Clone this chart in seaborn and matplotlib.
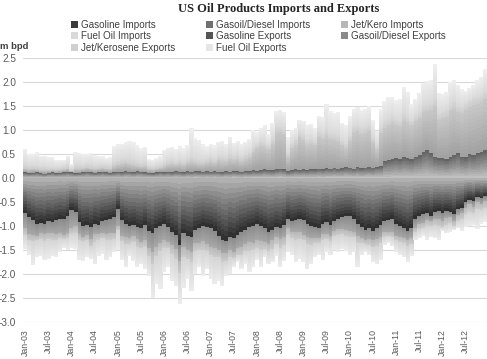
import numpy as np
import pandas as pd
import seaborn as sns
import matplotlib.pyplot as plt
from matplotlib.colors import to_rgb
from matplotlib.patches import Patch

# monthly, Jan-03 .. Dec-12, m bpd (imports given as positive volumes)
months = pd.date_range('2003-01-01', '2012-12-01', freq='MS')

gasoline_imp = [
    0.72, 0.82, 0.88, 0.95, 0.93, 0.96, 0.90, 0.92, 0.88, 0.85, 0.86, 0.80,
    0.66, 0.70, 0.92, 1.00, 0.98, 1.02, 0.95, 0.97, 0.90, 0.88, 0.85, 0.82,
    0.64, 0.88, 0.95, 1.00, 0.98, 1.02, 1.05, 0.98, 1.10, 1.15, 1.05, 1.00,
    0.95, 1.02, 1.12, 1.18, 1.40, 1.15, 1.20, 1.22, 1.08, 1.05, 1.00, 1.02,
    1.05, 1.10, 1.20, 1.28, 1.32, 1.22, 1.25, 1.18, 1.12, 1.08, 1.02, 1.00,
    0.95, 1.00, 1.05, 1.12, 1.08, 1.02, 1.05, 0.98, 0.85, 0.90, 0.88, 0.85,
    0.88, 0.95, 1.00, 1.02, 1.05, 0.95, 0.92, 0.98, 0.90, 0.85, 0.82, 0.80,
    0.80, 0.85, 0.95, 1.02, 1.08, 1.05, 1.10, 1.05, 0.98, 0.90, 0.88, 0.85,
    0.95, 1.00, 1.05, 1.10, 1.05, 0.85, 0.80, 0.75, 0.72, 0.78, 0.70, 0.68,
    0.72, 0.68, 0.70, 0.75, 0.65, 0.62, 0.50, 0.45, 0.48, 0.40, 0.42, 0.38,
]
gasoil_imp = [
    0.32, 0.35, 0.30, 0.25, 0.22, 0.20, 0.25, 0.22, 0.28, 0.30, 0.32, 0.35,
    0.38, 0.30, 0.25, 0.22, 0.20, 0.25, 0.22, 0.20, 0.25, 0.28, 0.30, 0.32,
    0.35, 0.32, 0.28, 0.25, 0.22, 0.25, 0.28, 0.30, 0.35, 0.40, 0.38, 0.35,
    0.35, 0.32, 0.28, 0.30, 0.32, 0.28, 0.30, 0.32, 0.28, 0.30, 0.32, 0.35,
    0.38, 0.35, 0.30, 0.28, 0.25, 0.28, 0.30, 0.28, 0.32, 0.30, 0.32, 0.35,
    0.35, 0.32, 0.28, 0.25, 0.22, 0.20, 0.22, 0.25, 0.20, 0.22, 0.25, 0.28,
    0.30, 0.28, 0.25, 0.22, 0.20, 0.22, 0.25, 0.22, 0.20, 0.22, 0.25, 0.28,
    0.30, 0.28, 0.25, 0.22, 0.20, 0.22, 0.20, 0.22, 0.25, 0.22, 0.25, 0.28,
    0.25, 0.22, 0.20, 0.18, 0.20, 0.18, 0.15, 0.18, 0.15, 0.12, 0.15, 0.18,
    0.18, 0.15, 0.12, 0.15, 0.12, 0.10, 0.12, 0.10, 0.12, 0.10, 0.12, 0.10,
]
jet_imp = [
    0.15, 0.12, 0.14, 0.10, 0.12, 0.15, 0.12, 0.14, 0.12, 0.10, 0.08, 0.10,
    0.12, 0.15, 0.12, 0.10, 0.12, 0.14, 0.16, 0.12, 0.10, 0.12, 0.14, 0.12,
    0.10, 0.12, 0.15, 0.12, 0.14, 0.16, 0.12, 0.15, 0.18, 0.25, 0.20, 0.18,
    0.15, 0.12, 0.18, 0.20, 0.25, 0.22, 0.18, 0.20, 0.16, 0.14, 0.18, 0.15,
    0.18, 0.20, 0.15, 0.18, 0.16, 0.15, 0.12, 0.14, 0.16, 0.15, 0.18, 0.15,
    0.15, 0.18, 0.15, 0.16, 0.18, 0.15, 0.18, 0.16, 0.14, 0.12, 0.15, 0.14,
    0.12, 0.15, 0.14, 0.12, 0.10, 0.12, 0.10, 0.12, 0.10, 0.12, 0.10, 0.12,
    0.12, 0.10, 0.15, 0.12, 0.10, 0.12, 0.14, 0.15, 0.12, 0.10, 0.08, 0.10,
    0.10, 0.12, 0.10, 0.14, 0.12, 0.10, 0.12, 0.10, 0.12, 0.10, 0.12, 0.14,
    0.12, 0.14, 0.12, 0.10, 0.12, 0.14, 0.12, 0.15, 0.12, 0.14, 0.12, 0.14,
]
fuel_imp = [
    0.28, 0.31, 0.50, 0.35, 0.35, 0.39, 0.41, 0.34, 0.37, 0.30, 0.19, 0.25,
    0.29, 0.33, 0.41, 0.40, 0.35, 0.27, 0.47, 0.33, 0.33, 0.42, 0.36, 0.29,
    0.41, 0.38, 0.47, 0.25, 0.38, 0.42, 0.35, 0.47, 0.42, 0.70, 0.57, 0.77,
    0.50, 0.39, 0.57, 0.57, 0.65, 0.65, 0.42, 0.61, 0.48, 0.36, 0.55, 0.38,
    0.49, 0.55, 0.50, 0.51, 0.32, 0.35, 0.18, 0.15, 0.30, 0.27, 0.43, 0.35,
    0.25, 0.35, 0.17, 0.27, 0.27, 0.25, 0.40, 0.33, 0.36, 0.36, 0.47, 0.41,
    0.45, 0.52, 0.41, 0.29, 0.25, 0.41, 0.28, 0.28, 0.30, 0.36, 0.31, 0.32,
    0.38, 0.32, 0.50, 0.24, 0.17, 0.21, 0.31, 0.38, 0.35, 0.18, 0.14, 0.19,
    0.25, 0.26, 0.30, 0.33, 0.25, 0.17, 0.18, 0.17, 0.29, 0.22, 0.28, 0.30,
    0.08, 0.18, 0.18, 0.08, 0.16, 0.24, 0.28, 0.30, 0.26, 0.41, 0.29, 0.30,
]
gasoline_exp = [
    0.12, 0.10, 0.11, 0.12, 0.10, 0.09, 0.11, 0.12, 0.10, 0.11, 0.12, 0.13,
    0.12, 0.10, 0.11, 0.12, 0.13, 0.12, 0.11, 0.12, 0.13, 0.12, 0.11, 0.12,
    0.13, 0.12, 0.14, 0.13, 0.12, 0.14, 0.13, 0.12, 0.11, 0.10, 0.12, 0.13,
    0.12, 0.13, 0.12, 0.14, 0.13, 0.12, 0.14, 0.13, 0.15, 0.14, 0.13, 0.14,
    0.13, 0.14, 0.13, 0.12, 0.14, 0.13, 0.15, 0.14, 0.13, 0.15, 0.14, 0.16,
    0.15, 0.16, 0.18, 0.17, 0.16, 0.18, 0.20, 0.18, 0.14, 0.16, 0.18, 0.17,
    0.18, 0.17, 0.19, 0.18, 0.20, 0.19, 0.21, 0.20, 0.22, 0.20, 0.21, 0.23,
    0.22, 0.20, 0.23, 0.21, 0.22, 0.23, 0.22, 0.24, 0.26, 0.36, 0.38, 0.40,
    0.42, 0.40, 0.44, 0.42, 0.40, 0.45, 0.48, 0.55, 0.58, 0.52, 0.45, 0.42,
    0.42, 0.40, 0.44, 0.48, 0.52, 0.45, 0.44, 0.50, 0.48, 0.52, 0.55, 0.58,
]
gasoil_exp = [
    0.08, 0.08, 0.09, 0.06, 0.07, 0.08, 0.05, 0.05, 0.06, 0.06, 0.06, 0.07,
    0.03, 0.10, 0.08, 0.08, 0.09, 0.08, 0.08, 0.08, 0.08, 0.08, 0.08, 0.13,
    0.15, 0.18, 0.18, 0.17, 0.16, 0.12, 0.11, 0.13, 0.09, 0.08, 0.08, 0.09,
    0.13, 0.15, 0.18, 0.14, 0.17, 0.16, 0.18, 0.22, 0.17, 0.16, 0.17, 0.18,
    0.22, 0.18, 0.25, 0.24, 0.21, 0.27, 0.23, 0.26, 0.23, 0.25, 0.31, 0.39,
    0.47, 0.50, 0.47, 0.43, 0.56, 0.77, 0.76, 0.74, 0.30, 0.46, 0.52, 0.68,
    0.62, 0.53, 0.53, 0.50, 0.65, 0.63, 0.67, 0.62, 0.58, 0.58, 0.47, 0.39,
    0.56, 0.75, 0.75, 0.71, 0.73, 0.75, 0.53, 0.36, 0.69, 0.69, 0.72, 0.75,
    0.68, 0.68, 0.76, 0.73, 0.70, 0.73, 0.77, 0.83, 0.82, 0.90, 1.05, 0.80,
    0.83, 0.88, 0.96, 0.97, 0.86, 0.90, 0.98, 0.98, 1.04, 1.03, 1.03, 1.07,
]
jet_exp = [
    0.08, 0.07, 0.06, 0.07, 0.06, 0.07, 0.06, 0.05, 0.06, 0.05, 0.06, 0.07,
    0.05, 0.07, 0.08, 0.06, 0.07, 0.08, 0.06, 0.07, 0.06, 0.07, 0.06, 0.08,
    0.08, 0.09, 0.08, 0.10, 0.09, 0.08, 0.07, 0.08, 0.05, 0.05, 0.06, 0.06,
    0.07, 0.08, 0.07, 0.06, 0.08, 0.07, 0.08, 0.10, 0.09, 0.08, 0.07, 0.08,
    0.08, 0.07, 0.08, 0.09, 0.08, 0.10, 0.08, 0.09, 0.08, 0.09, 0.08, 0.10,
    0.08, 0.10, 0.09, 0.08, 0.10, 0.12, 0.10, 0.11, 0.08, 0.09, 0.10, 0.09,
    0.10, 0.09, 0.10, 0.08, 0.11, 0.10, 0.12, 0.10, 0.11, 0.10, 0.09, 0.10,
    0.10, 0.11, 0.10, 0.12, 0.10, 0.11, 0.09, 0.08, 0.10, 0.12, 0.11, 0.12,
    0.12, 0.11, 0.13, 0.12, 0.10, 0.11, 0.12, 0.13, 0.12, 0.13, 0.15, 0.12,
    0.12, 0.13, 0.12, 0.14, 0.12, 0.13, 0.12, 0.13, 0.14, 0.12, 0.13, 0.14,
]
fuel_exp = [
    0.33, 0.25, 0.24, 0.29, 0.24, 0.23, 0.22, 0.22, 0.16, 0.16, 0.14, 0.20,
    0.10, 0.27, 0.25, 0.24, 0.21, 0.24, 0.23, 0.18, 0.18, 0.15, 0.19, 0.33,
    0.34, 0.33, 0.36, 0.38, 0.38, 0.34, 0.31, 0.32, 0.15, 0.15, 0.16, 0.17,
    0.26, 0.26, 0.27, 0.26, 0.28, 0.27, 0.28, 0.59, 0.43, 0.42, 0.33, 0.26,
    0.29, 0.29, 0.29, 0.33, 0.29, 0.36, 0.28, 0.29, 0.28, 0.27, 0.29, 0.35,
    0.25, 0.29, 0.36, 0.24, 0.33, 0.33, 0.36, 0.35, 0.33, 0.29, 0.25, 0.28,
    0.30, 0.31, 0.30, 0.29, 0.34, 0.36, 0.55, 0.48, 0.44, 0.50, 0.38, 0.38,
    0.42, 0.39, 0.40, 0.38, 0.40, 0.41, 0.36, 0.30, 0.40, 0.43, 0.47, 0.43,
    0.40, 0.46, 0.57, 0.53, 0.35, 0.36, 0.41, 0.47, 0.50, 0.50, 0.72, 0.44,
    0.38, 0.39, 0.48, 0.46, 0.45, 0.37, 0.28, 0.27, 0.29, 0.38, 0.39, 0.49,
]

# label, values, sign, colour near zero, colour at outer end, legend colour
series = [
    ('Gasoline Imports', gasoline_imp, -1, '#b6b6b6', '#2a2a2a', '#3a3a3a'),
    ('Gasoil/Diesel Imports', gasoil_imp, -1, '#8a8a8a', '#a8a8a8', '#707070'),
    ('Jet/Kero Imports', jet_imp, -1, '#b8b8b8', '#cbcbcb', '#b8b8b8'),
    ('Fuel Oil Imports', fuel_imp, -1, '#d4d4d4', '#ececec', '#dadada'),
    ('Gasoline Exports', gasoline_exp, 1, '#c4c4c4', '#606060', '#555555'),
    ('Gasoil/Diesel Exports', gasoil_exp, 1, '#a0a0a0', '#c8c8c8', '#8a8a8a'),
    ('Jet/Kerosene Exports', jet_exp, 1, '#cccccc', '#d6d6d6', '#d0d0d0'),
    ('Fuel Oil Exports', fuel_exp, 1, '#d8d8d8', '#efefef', '#e6e6e6'),
]

sns.set_theme(style='white')
plt.rcParams['font.family'] = ['Liberation Sans', 'DejaVu Sans']
plt.rcParams['axes.unicode_minus'] = False

fig = plt.figure(figsize=(4.87, 3.59), dpi=100)
ax = fig.add_axes([0.047, 0.103, 0.953, 0.735])

x = np.arange(len(months))
base_neg = np.zeros(len(x))
base_pos = np.zeros(len(x))
n_steps = 12  # slices per bar to fake the excel gradient fill

handles = []
for label, vals, sign, c_in, c_out, c_leg in series:
    v = sign * np.array(vals)
    base = base_neg if sign < 0 else base_pos
    c0, c1 = np.array(to_rgb(c_in)), np.array(to_rgb(c_out))
    for k in range(n_steps):
        t = (k + 0.5) / n_steps
        col = c0 + (c1 - c0) * t
        # slight overlap so no seams show between neighbouring bars
        ax.bar(x, v / n_steps * 1.02, bottom=base + v * k / n_steps,
               width=1.12, color=col, linewidth=0, antialiased=False)
    base += v
    handles.append(Patch(facecolor=c_leg, edgecolor='none', label=label))

ax.set_xlim(-0.6, len(x) - 0.5)
ax.set_ylim(-3.0, 2.5)
ax.set_yticks(np.arange(-3.0, 2.51, 0.5))
ax.set_yticklabels([f'{t:.1f}' for t in np.arange(-3.0, 2.51, 0.5)])
ax.set_xticks(x[::6])
ax.set_xticklabels(months[::6].strftime('%b-%y'), rotation=90)
ax.set_axisbelow(True)
ax.yaxis.grid(True, color='#d9d9d9', linewidth=0.8)
ax.xaxis.grid(False)
for s in ax.spines.values():
    s.set_visible(False)
ax.tick_params(axis='y', length=0, pad=5, labelsize=7.2, labelcolor='#595959')
ax.tick_params(axis='x', length=0, pad=5, labelsize=6.3, labelcolor='#595959')

fig.text(0.573, 0.976, 'US Oil Products Imports and Exports',
         family=['Liberation Serif', 'DejaVu Serif'], weight='bold',
         fontsize=9, ha='center', va='center', color='#262626')
fig.text(0.0, 0.870, 'm bpd', weight='bold', fontsize=6.8, color='#404040',
         ha='left', va='center')

order = [0, 3, 6, 1, 4, 7, 2, 5]
fig.legend([handles[i] for i in order], [series[i][0] for i in order],
           ncol=3, loc='upper left', bbox_to_anchor=(0.145, 0.945),
           frameon=False, fontsize=7.1, handlelength=0.7, handleheight=0.7,
           handletextpad=0.35, columnspacing=3.1, labelspacing=0.15,
           borderpad=0, borderaxespad=0, labelcolor='#404040')

fig.savefig('out.png', dpi=100, facecolor='white')
